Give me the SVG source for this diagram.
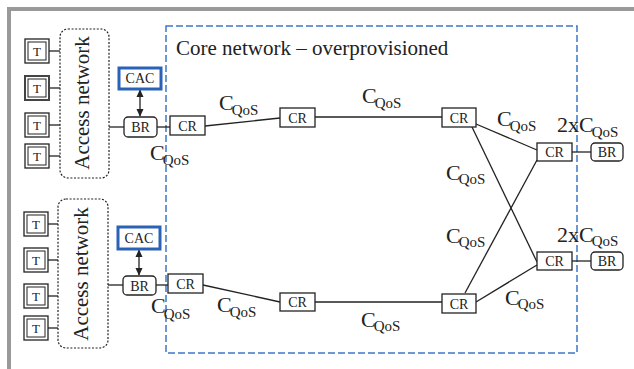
<svg xmlns="http://www.w3.org/2000/svg" width="634" height="369" viewBox="0 0 634 369">
<defs>
<style>
text{font-family:"Liberation Serif","Times New Roman",serif;fill:#222}
.box{fill:#fff;stroke:#222;stroke-width:1.3}
.lbl{font-size:14px;text-anchor:middle}
.cq{font-size:22px}
.sub{font-size:15px}
.ln{stroke:#222;stroke-width:1.3;fill:none}
.tout{fill:#fff;stroke:#222;stroke-width:1.3}
.tin{fill:none;stroke:#222;stroke-width:1}
.acc{fill:#fff;stroke:#222;stroke-width:1.2;stroke-dasharray:2 1.6}
.cac{fill:#fff;stroke:#2a62b8;stroke-width:3}
.an{font-size:21px;text-anchor:middle}
</style>
<marker id="ah" viewBox="0 0 10 10" refX="9" refY="5" markerWidth="8" markerHeight="8" orient="auto-start-reverse" markerUnits="userSpaceOnUse">
<path d="M0,0.5 L10,5 L0,9.5 z" fill="#222"/>
</marker>
<g id="tbox">
<rect class="tout" x="0" y="0" width="24" height="24"/>
<rect class="tin" x="3" y="3" width="18" height="18"/>
<text class="lbl" x="12" y="17" style="font-size:13px">T</text>
</g>
</defs>
<rect x="0" y="0" width="634" height="369" fill="#fff"/>
<rect x="7" y="7" width="627" height="4" fill="#999"/>
<rect x="7" y="7" width="4" height="362" fill="#999"/>

<g id="core">
<rect x="166" y="26" width="411" height="327" fill="none" stroke="#3c78c8" stroke-width="1.5" stroke-dasharray="7 3"/>
<text x="176" y="55" style="font-size:21px">Core network – overprovisioned</text>
</g>

<g id="connectors">
<line class="ln" x1="49" y1="51" x2="60" y2="51"/>
<line class="ln" x1="49" y1="88" x2="60" y2="88"/>
<line class="ln" x1="49" y1="125" x2="60" y2="125"/>
<line class="ln" x1="49" y1="156" x2="60" y2="156"/>
<line class="ln" x1="48" y1="224" x2="58" y2="224"/>
<line class="ln" x1="48" y1="260" x2="58" y2="260"/>
<line class="ln" x1="48" y1="296" x2="58" y2="296"/>
<line class="ln" x1="48" y1="328" x2="58" y2="328"/>
<line class="ln" x1="109" y1="127" x2="124" y2="127"/>
<line class="ln" x1="157" y1="127" x2="170" y2="127"/>
<line class="ln" x1="205" y1="126" x2="280" y2="118"/>
<line class="ln" x1="315" y1="117" x2="442" y2="117"/>
<line class="ln" x1="476" y1="124" x2="537" y2="150"/>
<line class="ln" x1="472" y1="127" x2="537" y2="262"/>
<line class="ln" x1="537" y1="160" x2="465" y2="293"/>
<line class="ln" x1="476" y1="302" x2="537" y2="265"/>
<line class="ln" x1="572" y1="152" x2="591" y2="152"/>
<line class="ln" x1="572" y1="261" x2="591" y2="261"/>
<line class="ln" x1="108" y1="285" x2="123" y2="285"/>
<line class="ln" x1="156" y1="285" x2="168" y2="285"/>
<line class="ln" x1="203" y1="285" x2="280" y2="302"/>
<line class="ln" x1="315" y1="302" x2="442" y2="302"/>
<line class="ln" x1="140" y1="90" x2="140" y2="116" marker-start="url(#ah)" marker-end="url(#ah)"/>
<line class="ln" x1="139" y1="250" x2="139" y2="275" marker-start="url(#ah)" marker-end="url(#ah)"/>
</g>

<g id="t1"><use href="#tbox" x="25" y="39"/></g>
<g id="t2"><use href="#tbox" x="25" y="76"/><rect x="25" y="76" width="24" height="24" fill="none" stroke="#444" stroke-width="2"/></g>
<g id="t3"><use href="#tbox" x="25" y="113"/></g>
<g id="t4"><use href="#tbox" x="25" y="144"/></g>
<g id="t5"><use href="#tbox" x="24" y="212"/></g>
<g id="t6"><use href="#tbox" x="24" y="248"/></g>
<g id="t7"><use href="#tbox" x="24" y="284"/></g>
<g id="t8"><use href="#tbox" x="24" y="316"/></g>

<g id="access1">
<rect class="acc" x="60" y="29" width="49" height="149" rx="8"/>
<text class="an" transform="translate(89,103) rotate(-90)">Access network</text>
</g>
<g id="access2">
<rect class="acc" x="58" y="199" width="50" height="149" rx="8"/>
<text class="an" transform="translate(88,274) rotate(-90)">Access network</text>
</g>

<g id="cac1"><rect class="cac" x="119" y="68" width="42" height="21"/><text class="lbl" x="140" y="83">CAC</text></g>
<g id="cac2"><rect class="cac" x="118" y="227" width="42" height="22"/><text class="lbl" x="139" y="243">CAC</text></g>

<g id="br1"><rect class="box" x="124" y="117" width="33" height="20" rx="4"/><text class="lbl" x="140.5" y="132">BR</text></g>
<g id="br2"><rect class="box" x="123" y="276" width="33" height="19" rx="4"/><text class="lbl" x="139.5" y="290.5">BR</text></g>
<g id="br3"><rect class="box" x="591" y="143" width="32" height="18" rx="4"/><text class="lbl" x="607" y="157">BR</text></g>
<g id="br4"><rect class="box" x="591" y="252" width="32" height="18" rx="4"/><text class="lbl" x="607" y="266">BR</text></g>

<g id="cr1"><rect class="box" x="170" y="116" width="35" height="19"/><text class="lbl" x="187.5" y="130.5">CR</text></g>
<g id="cr2"><rect class="box" x="280" y="108" width="35" height="19"/><text class="lbl" x="297.5" y="122.5">CR</text></g>
<g id="cr3"><rect class="box" x="442" y="108" width="34" height="19"/><text class="lbl" x="459" y="122.5">CR</text></g>
<g id="cr4"><rect class="box" x="537" y="143" width="35" height="18"/><text class="lbl" x="554.5" y="157">CR</text></g>
<g id="cr5"><rect class="box" x="442" y="294" width="34" height="19"/><text class="lbl" x="459" y="308.5">CR</text></g>
<g id="cr6"><rect class="box" x="537" y="252" width="35" height="18"/><text class="lbl" x="554.5" y="266">CR</text></g>
<g id="cr7"><rect class="box" x="168" y="274" width="35" height="19"/><text class="lbl" x="185.5" y="288.5">CR</text></g>
<g id="cr8"><rect class="box" x="280" y="293" width="35" height="18"/><text class="lbl" x="297.5" y="307">CR</text></g>

<g id="labels">
<text class="cq" x="150" y="160">C<tspan class="sub" dx="-2" dy="5">QoS</tspan></text>
<text class="cq" x="219" y="110">C<tspan class="sub" dx="-2" dy="5">QoS</tspan></text>
<text class="cq" x="362" y="103">C<tspan class="sub" dx="-2" dy="5">QoS</tspan></text>
<text class="cq" x="497" y="126">C<tspan class="sub" dx="-2" dy="5">QoS</tspan></text>
<text class="cq" x="557" y="132">2xC<tspan class="sub" dx="-2" dy="5">QoS</tspan></text>
<text class="cq" x="446" y="180">C<tspan class="sub" dx="-2" dy="4">QoS</tspan></text>
<text class="cq" x="446" y="243">C<tspan class="sub" dx="-2" dy="4">QoS</tspan></text>
<text class="cq" x="557" y="242">2xC<tspan class="sub" dx="-2" dy="4">QoS</tspan></text>
<text class="cq" x="505" y="305">C<tspan class="sub" dx="-2" dy="4">QoS</tspan></text>
<text class="cq" x="361" y="327">C<tspan class="sub" dx="-2" dy="4">QoS</tspan></text>
<text class="cq" x="217" y="312">C<tspan class="sub" dx="-2" dy="5">QoS</tspan></text>
<text class="cq" x="151" y="313">C<tspan class="sub" dx="-2" dy="6">QoS</tspan></text>
</g>
</svg>
